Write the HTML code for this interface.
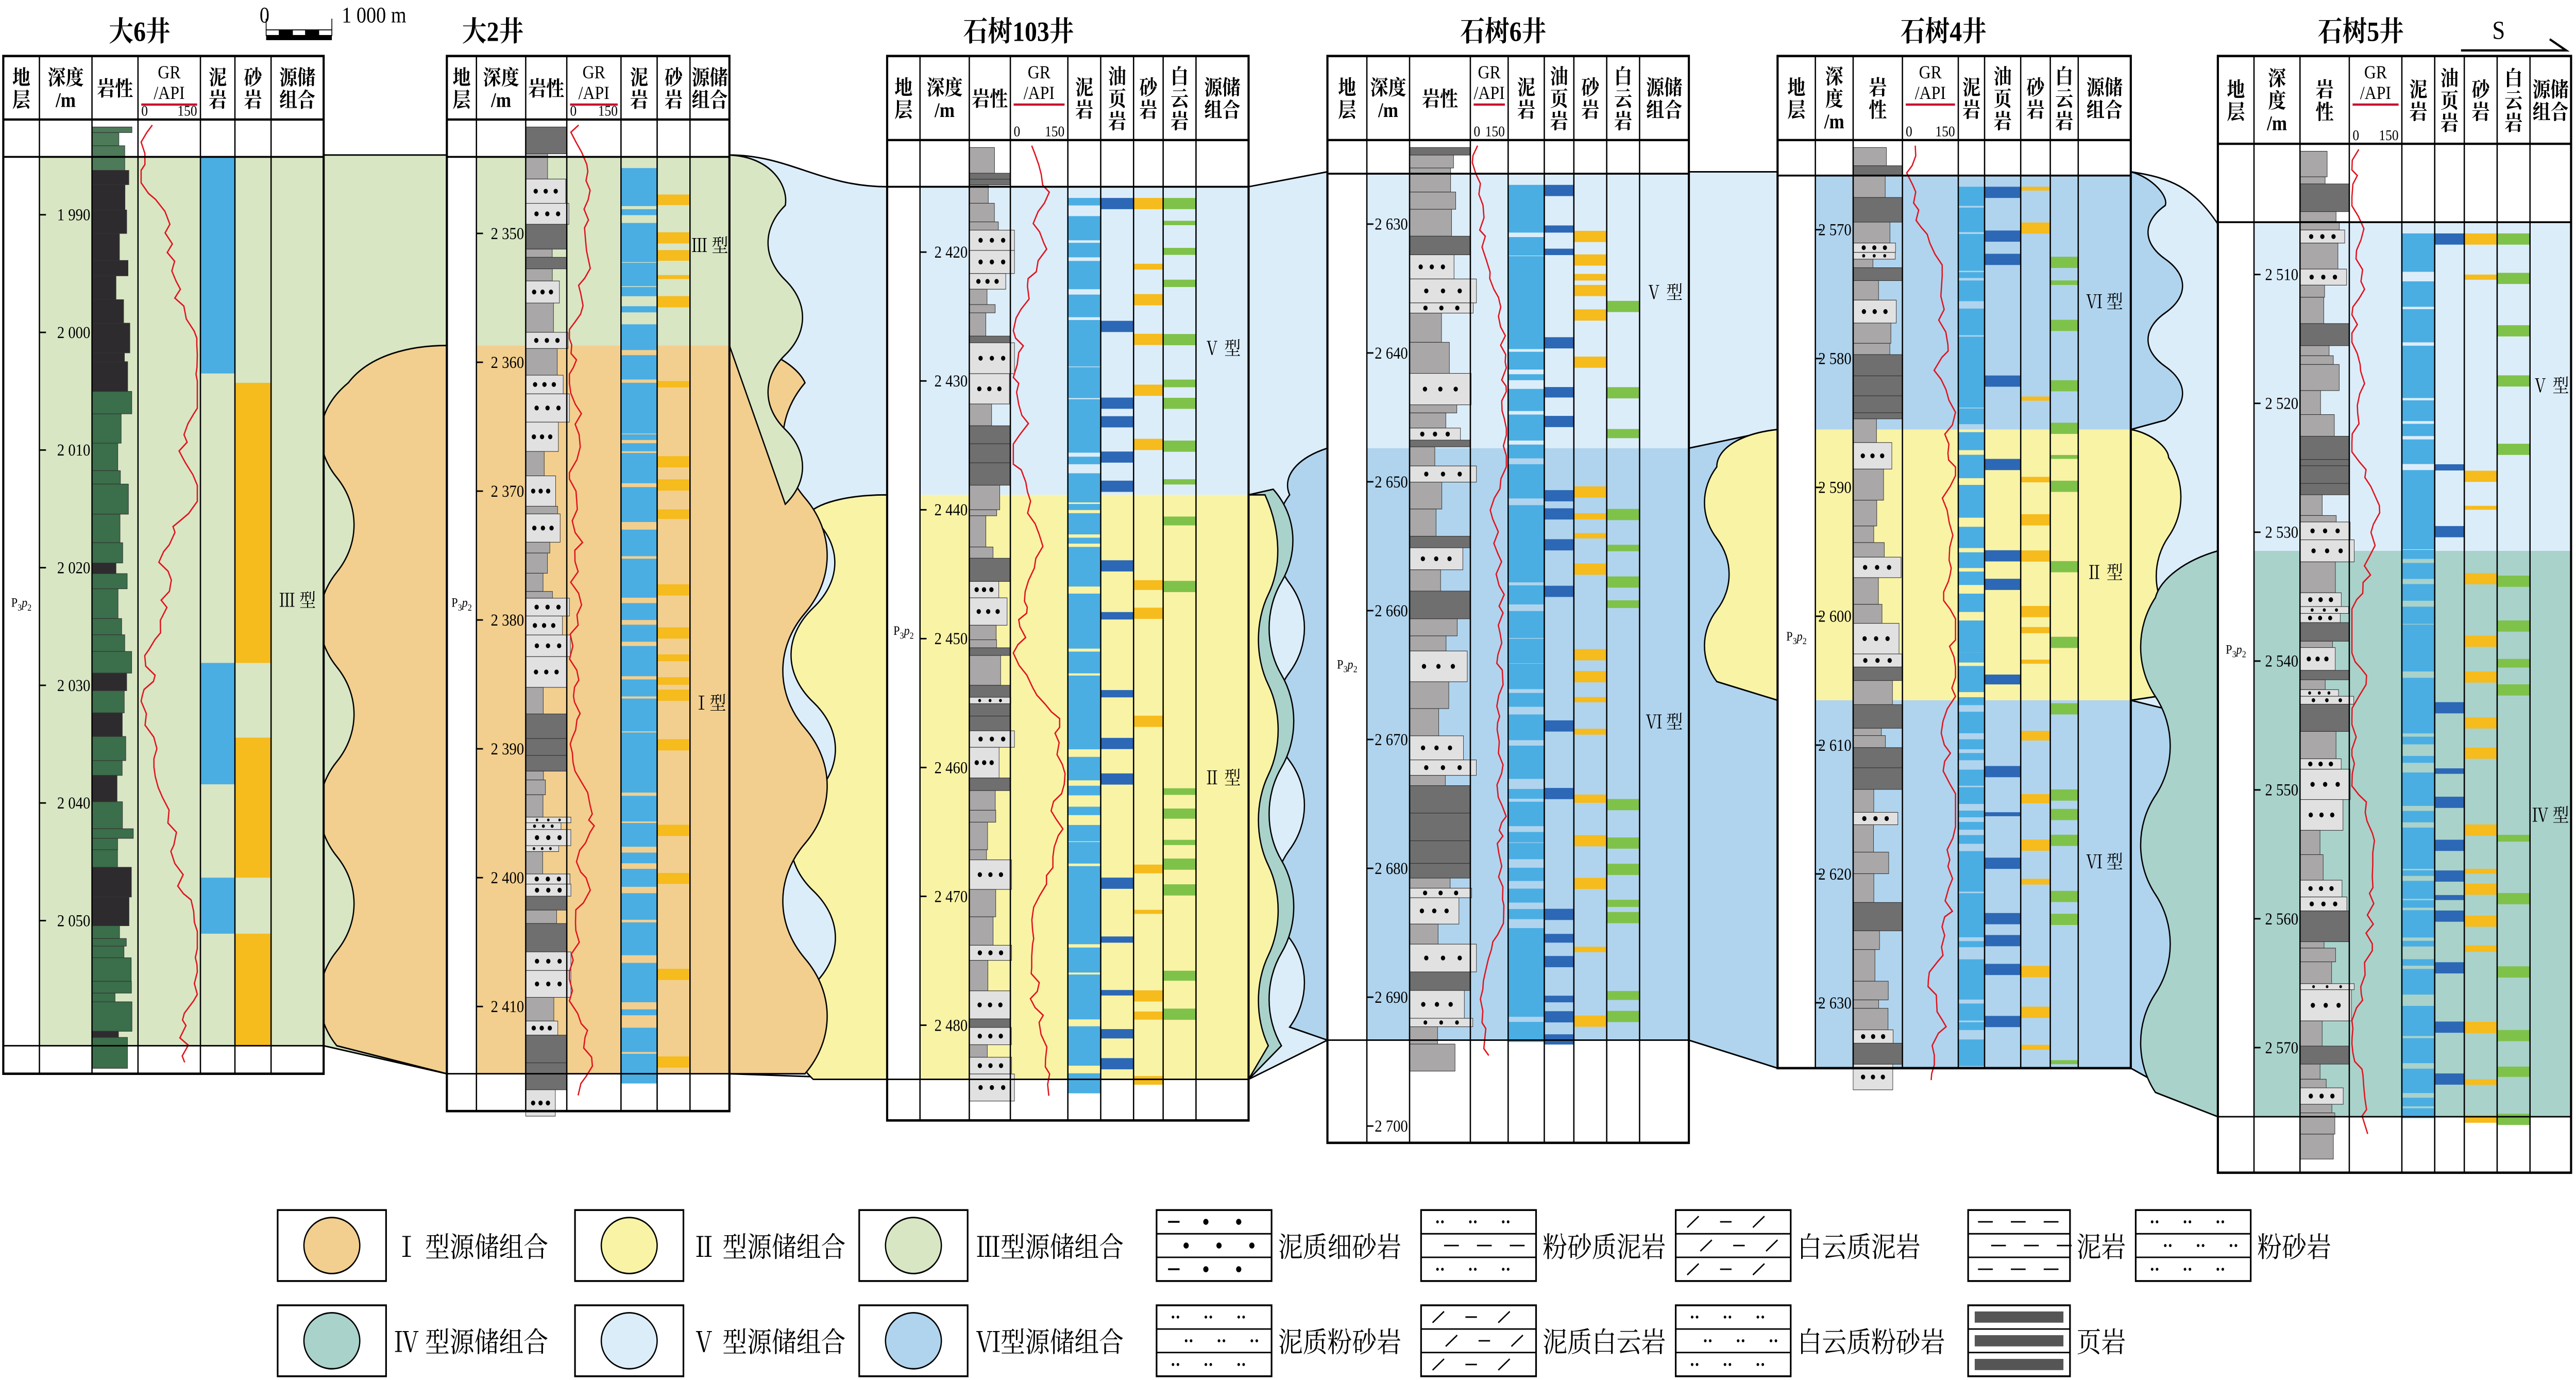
<!DOCTYPE html>
<html><head><meta charset="utf-8"><style>
html,body{margin:0;padding:0;background:#fff;overflow:hidden;width:100%;height:100%}
svg{display:block;position:absolute;left:0;top:0;width:100vw;height:100vh}
text{font-family:"Liberation Serif","Noto Serif CJK SC","Noto Sans CJK SC",serif;fill:#000}
</style></head><body>
<svg id="s" viewBox="0 0 1568 739" preserveAspectRatio="none" xmlns="http://www.w3.org/2000/svg">
<rect width="1568" height="739" fill="#fff"/>
<g id="corr"></g>
<g id="wells"></g>
<g id="legend"></g>
</svg>
<script>
const NS="http://www.w3.org/2000/svg";
const svg=document.getElementById('s');
function el(p,t,a,txt){const e=document.createElementNS(NS,t);for(const k in a)e.setAttribute(k,a[k]);if(txt!==undefined)e.textContent=txt;p.appendChild(e);return e;}
let seed=7;function rnd(){seed=(seed*16807)%2147483647;return (seed-1)/2147483646;}
const G='#d8e6c4',O='#f2cf8f',Y='#f9f3a6',LB='#dcedfa',MB='#b0d4ee',T='#a9d2cb';
const MUD='#4aaee3',SAND='#f6bb1c',DOL='#7fc24a',OIL='#2c68b5';
const corr=document.getElementById('corr'),wells=document.getElementById('wells'),leg=document.getElementById('legend');
function wave(x,y0,y1,amp,n,ph){let d='';const h=(y1-y0)/n;for(let i=0;i<n;i++){const ya=y0+i*h;const s=((i+ph)%2?1:-1)*amp;d+=` C ${x+s} ${ya+h*0.3} ${x+s} ${ya+h*0.7} ${x} ${ya+h}`;}return d;}
function P(d,f){el(corr,'path',{d:d,fill:f,stroke:'#000','stroke-width':0.8});}
P(`M197 83 L272 83 L272 575 L197 560 Z`,G);
P(`M272 185 C250 185 225 190 212 205`+wave(205,205,560,14,7,0)+` L272 575 Z`,O);
P(`M444 83 C480 83 500 100 540 100 L540 578 L444 575 Z`,LB);
P(`M540 265 C520 265 500 268 492 275`+wave(495,275,578,18,6,1)+` L540 578 Z`,Y);
P(`M444 185 C465 185 485 195 490 205`+wave(490,205,575,18,6,0)+` L444 575 Z`,O);
P(`M444 83 C470 84 480 100 478 110`+wave(478,110,270,14,4,0)+` L444 185 Z`,G);
P(`M760 100 L808 92 L808 557 L760 578 Z`,LB);
P(`M808 240 C790 245 780 255 785 265`+wave(785,265,550,12,6,0)+` L808 557 Z`,MB);
P(`M760 265 L775 262`+wave(780,262,560,10,6,1)+` L760 578 Z`,T);
P(`M760 265 L770 265`+wave(772,270,560,8,6,1)+` L760 578 Z`,Y);
P(`M1028 92 L1082 92 L1082 572 L1028 557 Z`,LB);
P(`M1028 240 L1082 230 L1082 572 L1028 557 Z`,MB);
P(`M1082 230 C1060 232 1045 240 1045 250`+wave(1045,250,365,10,3,0)+` L1082 375 Z`,Y);
P(`M1297 92 C1320 95 1335 100 1350 120 L1350 598 L1297 572 Z`,LB);
P(`M1297 92 C1310 95 1320 105 1318 110`+wave(1318,110,225,14,4,0)+` L1297 230 Z`,MB);
P(`M1297 375 L1320 380 L1350 598 L1297 572 Z`,MB);
P(`M1297 230 C1310 232 1320 240 1320 245`+wave(1320,245,372,10,3,1)+` L1297 375 Z`,Y);
P(`M1350 295 C1330 300 1315 310 1312 320`+wave(1312,320,585,12,5,0)+` L1350 598 Z`,T);

const wellsDef=[
{name:'大6井',tx:85,cols:[2,24,56,84,122,143,165,197],hb:64,bt:84,bot:575,bands:[[84,560,G]],heads:[['地','层'],['深度','/m'],['岩性'],'GR',['泥','岩'],['砂','岩'],['源储','组合']],dep:[1990,115,63,7],strat:325,types:[['Ⅲ 型',325]],lith:'dark',cl:['mudsolid','sandsolid']},
{name:'大2井',tx:300,cols:[272,290,320,345,378,400,420,444],hb:64,bt:84,bot:595,bands:[[84,185,G],[185,575,O]],heads:[['地','层'],['深度','/m'],['岩性'],'GR',['泥','岩'],['砂','岩'],['源储','组合']],dep:[2350,125,69,7],strat:325,types:[['Ⅲ 型',135],['Ⅰ型',380]],lith:'gray',cl:['mud','sand']},
{name:'石树103井',tx:620,cols:[540,560,590,615,650,670,690,708,728,760],hb:75,bt:100,bot:600,bands:[[100,265,LB],[265,578,Y]],heads:[['地','层'],['深度','/m'],['岩性'],'GR',['泥','岩'],['油','页','岩'],['砂','岩'],['白','云','岩'],['源储','组合']],dep:[2420,135,69,7],strat:340,types:[['Ⅴ 型',190],['Ⅱ 型',420]],lith:'gray',cl:['mud','oil','sand','dol']},
{name:'石树6井',tx:915,cols:[808,832,858,895,918,940,958,978,998,1028],hb:75,bt:93,bot:612,bands:[[93,240,LB],[240,557,MB]],heads:[['地','层'],['深度','/m'],['岩性'],'GR',['泥','岩'],['油','页','岩'],['砂','岩'],['白','云','岩'],['源储','组合']],dep:[2630,120,69,8],strat:358,types:[['Ⅴ 型',160],['Ⅵ 型',390]],lith:'gray',cl:['mud','oil','sand','dol']},
{name:'石树4井',tx:1183,cols:[1082,1105,1128,1158,1192,1208,1230,1248,1265,1297],hb:75,bt:94,bot:572,bands:[[94,230,MB],[230,375,Y],[375,572,MB]],heads:[['地','层'],['深','度','/m'],['岩','性'],'GR',['泥','岩'],['油','页','岩'],['砂','岩'],['白','云','岩'],['源储','组合']],dep:[2570,123,69,7],strat:343,types:[['Ⅵ 型',165],['Ⅱ 型',310],['Ⅵ 型',465]],lith:'gray',cl:['mud','oil','sand','dol']},
{name:'石树5井',tx:1437,cols:[1350,1372,1400,1430,1462,1482,1500,1520,1540,1565],hb:77,bt:119,bot:628,bands:[[119,295,LB],[295,598,T]],heads:[['地','层'],['深','度','/m'],['岩','性'],'GR',['泥','岩'],['油','页','岩'],['砂','岩'],['白','云','岩'],['源储','组合']],dep:[2510,147,69,7],strat:350,types:[['Ⅴ 型',210],['Ⅳ 型',440]],lith:'gray',cl:['mud','oil','sand','dol']}
];
for(const w of wellsDef){
 const c=w.cols,x0=c[0],x1=c[c.length-1],top=30;
 el(wells,'text',{x:w.tx,y:22,'font-size':15,'text-anchor':'middle','font-weight':'bold'},w.name);
 el(wells,'rect',{x:x0,y:top,width:x1-x0,height:w.bot-top,fill:'#fff'});
 for(const b of w.bands) el(wells,'rect',{x:c[1],y:b[0],width:x1-c[1],height:b[1]-b[0],fill:b[2]});
 const yb=w.bands[w.bands.length-1][1];
 const ci=c.length-1;
 const lx=c[2],lw=c[3]-c[2];
 let y=w.hb+4;
 while(y<yb+10){const h=3+rnd()*14;let f,wd;
  if(w.lith=='dark'){f=y<w.bt?'#4d7a58':(y>200&&rnd()<0.8?'#3b6e4a':'#2e2b2f');wd=lw*(0.5+rnd()*0.4);}
  else{const r=rnd();f=r<0.45?'#a9a7a8':r<0.7?'#6f6f70':'#e2e1e2';wd=lw*(r<0.45?0.4+rnd()*0.4:r<0.7?1:0.7+rnd()*0.5);}
  wd=Math.min(wd,lw*1.1);
  el(wells,'rect',{x:lx,y:y,width:wd,height:h,fill:f,stroke:'#333','stroke-width':0.3});
  if(f=='#e2e1e2'){for(let k=0;k<3;k++)el(wells,'circle',{cx:lx+wd*(0.25+k*0.25),cy:y+h/2,r:Math.min(1.3,h/4),fill:'#000'});}
  y+=h;}
 const gx=c[3],gw=c[4]-c[3];let pts=[];let v=0.3;
 for(let yy=w.hb+3;yy<yb+12;yy+=3+rnd()*4){v+= (rnd()-0.5)*0.3; v=Math.max(0.05,Math.min(0.95,v));pts.push((gx+gw*v).toFixed(1)+','+yy.toFixed(1));}
 el(wells,'polyline',{points:pts.join(' '),fill:'none',stroke:'#e0141e','stroke-width':0.8});
 for(let k=0;k<w.cl.length;k++){
  const kind=w.cl[k],cx=c[4+k],cw=c[5+k]-c[4+k];
  if(kind=='mudsolid'){[[84,200],[355,420],[470,500]].forEach(s=>el(wells,'rect',{x:cx,y:s[0],width:cw,height:s[1]-s[0],fill:MUD}));continue;}
  if(kind=='sandsolid'){[[205,355],[395,470],[500,560]].forEach(s=>el(wells,'rect',{x:cx,y:s[0],width:cw,height:s[1]-s[0],fill:SAND}));continue;}
  let yy=w.bt+6;
  while(yy<yb){const h=2+rnd()*10;const g=2+rnd()*(kind=='mud'?6:18);
   const col=kind=='mud'?MUD:kind=='oil'?OIL:kind=='sand'?SAND:DOL;
   if(kind=='mud'||rnd()<0.6) el(wells,'rect',{x:cx,y:yy,width:cw,height:(kind=='mud'?h*1.5:Math.min(h,6)),fill:col});
   yy+=h+g;}
 }
 el(wells,'rect',{x:x0,y:top,width:x1-x0,height:w.bot-top,fill:'none',stroke:'#000','stroke-width':1.3});
 el(wells,'line',{x1:x0,x2:x1,y1:w.hb,y2:w.hb,stroke:'#000','stroke-width':1.2});
 el(wells,'line',{x1:x0,x2:x1,y1:w.bt,y2:w.bt,stroke:'#000','stroke-width':1});
 el(wells,'line',{x1:x0,x2:x1,y1:yb,y2:yb,stroke:'#000','stroke-width':0.8});
 for(let i=1;i<c.length-1;i++) el(wells,'line',{x1:c[i],x2:c[i],y1:top,y2:w.bot,stroke:'#000','stroke-width':0.8});
 for(let i=0;i<w.heads.length;i++){
  const hx=(c[i]+c[i+1])/2,h=w.heads[i],hh=w.hb-top;
  if(h=='GR'){el(wells,'text',{x:hx,y:top+12,'font-size':10,'text-anchor':'middle'},'GR');
   el(wells,'text',{x:hx,y:top+23,'font-size':10,'text-anchor':'middle'},'/API');
   el(wells,'line',{x1:c[i]+2,x2:c[i+1]-2,y1:top+26,y2:top+26,stroke:'#c8102e','stroke-width':1.2});
   el(wells,'text',{x:c[i]+2,y:hh+top-2,'font-size':8},'0');
   el(wells,'text',{x:c[i+1]-2,y:hh+top-2,'font-size':8,'text-anchor':'end'},'150');continue;}
  const n=h.length,lh=Math.min(12,(hh-4)/n),fs=Math.min(11,(c[i+1]-c[i])/h[0].length*0.95,lh);
  const y0=top+hh/2-(n*lh)/2+lh*0.85;
  h.forEach((s,j)=>el(wells,'text',{x:hx,y:y0+j*lh,'font-size':fs,'text-anchor':'middle','font-weight':'bold'},s));
 }
 const [d0,dy0,dd,dn]=w.dep;
 for(let k=0;k<dn;k++){const yy=dy0+k*dd;const v=d0+k*10;const s=String(v).slice(0,1)+' '+String(v).slice(1);
  el(wells,'line',{x1:c[1],x2:c[1]+4,y1:yy,y2:yy,stroke:'#000','stroke-width':0.8});
  el(wells,'text',{x:c[2]-1,y:yy+3,'font-size':9,'text-anchor':'end'},s);}
 const st=el(wells,'text',{x:(c[0]+c[1])/2,y:w.strat,'font-size':7,'text-anchor':'middle'},'');
 st.innerHTML='P<tspan font-size="5" dy="2">3</tspan><tspan font-style="italic" dy="-2">p</tspan><tspan font-size="5" dy="2">2</tspan>';
 for(const t of w.types) el(wells,'text',{x:(c[ci-1]+c[ci])/2,y:t[1],'font-size':10,'text-anchor':'middle'},t[0]);
}
el(svg,'text',{x:158,y:12,'font-size':12},'0');
el(svg,'text',{x:208,y:12,'font-size':12},'1 000 m');
for(let i=0;i<5;i++) el(svg,'rect',{x:162+i*8,y:16,width:8,height:3,fill:i%2?'#000':'#fff',stroke:'#000','stroke-width':0.5});
el(svg,'rect',{x:162,y:19,width:40,height:2.5,fill:'#000'});
el(svg,'line',{x1:162,x2:162,y1:10,y2:16,stroke:'#000','stroke-width':0.5});
el(svg,'line',{x1:202,x2:202,y1:10,y2:16,stroke:'#000','stroke-width':0.5});
el(svg,'text',{x:1517,y:21,'font-size':14},'S');
el(svg,'polyline',{points:'1498,27 1562,27 1552,21',fill:'none',stroke:'#000','stroke-width':1.2});
const L=[[169,648,O,'Ⅰ 型源储组合'],[350,648,Y,'Ⅱ 型源储组合'],[523,648,G,'Ⅲ型源储组合'],[169,699,T,'Ⅳ 型源储组合'],[350,699,LB,'Ⅴ 型源储组合'],[523,699,MB,'Ⅵ型源储组合']];
for(const l of L){el(leg,'rect',{x:l[0],y:l[1],width:66,height:38,fill:'#fff',stroke:'#000','stroke-width':1});
 el(leg,'ellipse',{cx:l[0]+33,cy:l[1]+19,rx:17,ry:15,fill:l[2],stroke:'#000','stroke-width':0.8});
 el(leg,'text',{x:l[0]+71,y:l[1]+25,'font-size':15},l[3]);}
const LL=[[704,648,'泥质细砂岩','dots'],[865,648,'粉砂质泥岩','silt'],[1020,648,'白云质泥岩','dolm'],[1198,648,'泥岩','mud'],[1300,648,'粉砂岩','sil2'],
[704,699,'泥质粉砂岩','ms'],[865,699,'泥质白云岩','md'],[1020,699,'白云质粉砂岩','ds'],[1198,699,'页岩','sh']];
for(const l of LL){const x=l[0],y=l[1],wd=l[3]=='mud'||l[3]=='sh'?62:70;
 el(leg,'rect',{x:x,y:y,width:wd,height:38,fill:'#fff',stroke:'#000','stroke-width':1});
 el(leg,'line',{x1:x,x2:x+wd,y1:y+12.7,y2:y+12.7,stroke:'#000','stroke-width':0.8});
 el(leg,'line',{x1:x,x2:x+wd,y1:y+25.3,y2:y+25.3,stroke:'#000','stroke-width':0.8});
 for(let r=0;r<3;r++){const yy=y+6.3+r*12.7;
  if(l[3]=='sh'){el(leg,'rect',{x:x+4,y:yy-3,width:wd-8,height:6,fill:'#555'});continue;}
  for(let k=0;k<3;k++){const xx=x+10+k*20+(r%2?8:0);
   if(l[3]=='dots'){ if(k==0&&r!=1) el(leg,'line',{x1:xx-3,x2:xx+4,y1:yy,y2:yy,stroke:'#000','stroke-width':1}); else el(leg,'circle',{cx:xx,cy:yy,r:1.6,fill:'#000'});}
   else if(l[3]=='mud'||l[3]=='silt'&&r==1){el(leg,'line',{x1:xx-4,x2:xx+5,y1:yy,y2:yy,stroke:'#000','stroke-width':0.8});}
   else if(l[3]=='dolm'||l[3]=='md'){el(leg,'line',{x1:xx-3,x2:xx+4,y1:yy+(k%2?0:3),y2:yy-(k%2?0:3),stroke:'#000','stroke-width':0.8});}
   else {el(leg,'circle',{cx:xx,cy:yy,r:0.8,fill:'#000'});el(leg,'circle',{cx:xx+3,cy:yy,r:0.8,fill:'#000'});}
  }}
 el(leg,'text',{x:x+wd+4,y:y+25,'font-size':15},l[2]);}
</script>
</body></html>
